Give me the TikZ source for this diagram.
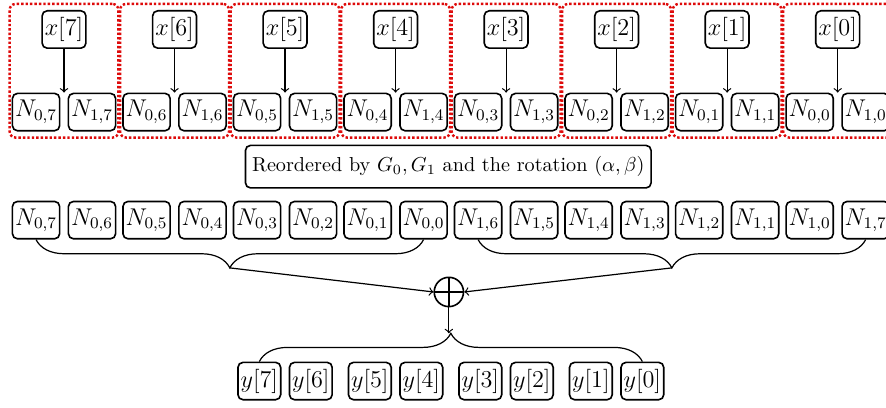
\documentclass[tikz,border=0pt]{standalone}
\usepackage{amsmath}
\usepackage{tikz}
\usetikzlibrary{positioning, calc, fit, decorations.pathreplacing}
\definecolor{grpred}{RGB}{222,10,10}
\tikzset{
  xbox/.style={rectangle, draw, rounded corners=2.5pt, thick,
    minimum height=0.65cm, inner sep=1.3pt, font=\large},
  nbox/.style={rectangle, draw, rounded corners=2.5pt, thick,
    minimum height=0.65cm, inner sep=1.3pt, font=\large},
  notebox/.style={rectangle, draw, rounded corners=2.5pt, thick,
    minimum height=0.74cm, inner sep=3.3pt},
  group/.style={rectangle, draw=grpred, densely dotted, very thick,
    rounded corners=3pt, inner xsep=1pt, inner ysep=3pt},
  sumnode/.style={circle, draw, thick, minimum size=14.5pt, inner sep=0pt,
    path picture={\draw[thick] (path picture bounding box.north) -- (path picture bounding box.south)
      (path picture bounding box.west) -- (path picture bounding box.east);}},
  curly/.style={decorate, decoration={brace, amplitude=14pt}, semithick},
  arrow/.style={->, semithick}
}

\begin{document}
\begin{tikzpicture}
  \useasboundingbox (0,0) rectangle (15.416,-7.099);

  % inputs x[k] split into the two halves N_{0,k}, N_{1,k}
  \foreach \k [count=\i from 0] in {7,...,0} {
    \node[xbox] (x\k) at (1.114+1.923*\i, -0.513) {$x[\k]$};
    \node[nbox] (n0\k) at (1.114+1.923*\i-0.487, -1.95) {$N_{0,\k}$};
    \node[nbox] (n1\k) at (1.114+1.923*\i+0.487, -1.95) {$N_{1,\k}$};
    \draw[arrow] (x\k.south) -- (x\k.south |- n0\k.north);
    \node[group, fit=(x\k) (n0\k) (n1\k)] {};
  }

  \node[notebox] (note) at (7.80,-2.90)
    {Reordered by $G_0, G_1$ and the rotation $(\alpha,\beta)$};

  % reordered sequence
  \foreach \a/\b [count=\j from 0] in {0/7,0/6,0/5,0/4,0/3,0/2,0/1,0/0,
                                       1/6,1/5,1/4,1/3,1/2,1/1,1/0,1/7} {
    \pgfmathsetmacro{\xpos}{0.627+1.923*int(\j/2)+0.974*mod(\j,2)}
    \node[nbox] (m\j) at (\xpos, -3.83) {$N_{\a,\b}$};
  }

  \draw[curly, decoration={mirror}] (m0.south) -- (m7.south);
  \draw[curly, decoration={mirror}] (m8.south) -- (m15.south);
  \coordinate (ltip) at ($(m0.south)!0.5!(m7.south)+(0,-14pt)$);
  \coordinate (rtip) at ($(m8.south)!0.5!(m15.south)+(0,-14pt)$);

  \node[sumnode] (sum) at (7.81,-5.08) {};
  \draw[arrow] (ltip) -- (sum.west);
  \draw[arrow] (rtip) -- (sum.east);

  % outputs
  \foreach \p/\q [count=\i from 2] in {7/6,5/4,3/2,1/0} {
    \node[xbox] (y\p) at (1.114+1.923*\i-0.448, -6.63) {$y[\p]$};
    \node[xbox] (y\q) at (1.114+1.923*\i+0.448, -6.63) {$y[\q]$};
  }

  \draw[curly] (y7.north) -- (y0.north);
  \coordinate (btip) at ($(y7.north)!0.5!(y0.north)+(0,14pt)$);
  \draw[arrow] (sum.south) -- (sum.south |- btip);
\end{tikzpicture}
\end{document}
